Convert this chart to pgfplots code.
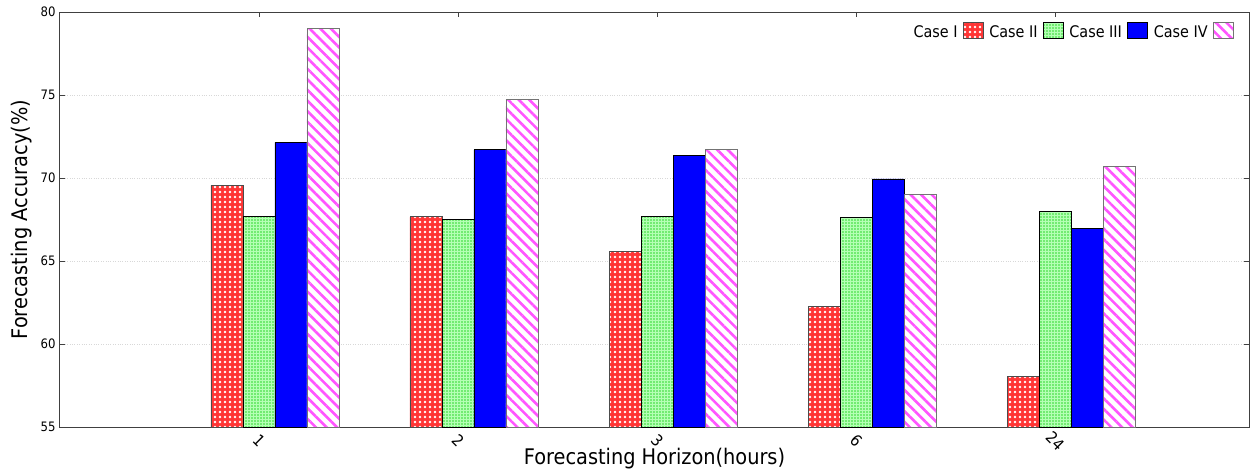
\documentclass[border=0pt]{standalone}
\usepackage{fontspec}
\IfFontExistsTF{DejaVu Sans Condensed}{\setmainfont{DejaVu Sans Condensed}}{\setmainfont{DejaVu Sans}}
\usepackage{pgfplots}
\pgfplotsset{compat=1.18}
\usetikzlibrary{patterns.meta}
\definecolor{cI}{HTML}{FF3535}
\definecolor{cIIbg}{HTML}{B4FFB4}
\definecolor{cIIfg}{HTML}{30D830}
\definecolor{cIII}{HTML}{0000FF}
\definecolor{cIV}{HTML}{FF55FF}
\definecolor{gridc}{HTML}{D8D8D8}
\begin{document}
\begin{tikzpicture}
\begin{axis}[
  scale only axis, width=1189pt, height=415pt,
  at={(0pt,0pt)}, anchor=south west,
  xmin=-1.080, xmax=4.894, ymin=55, ymax=80,
  ybar=0pt, bar width=32pt,
  xtick={-0.08,0.92,1.92,2.92,3.92},
  xticklabels={1,2,3,6,24},
  ytick={55,60,65,70,75,80},
  ymajorgrids, grid style={dotted, gridc, line width=1pt},
  tick align=inside, major tick length=5pt,
  tick style={black!75, line width=0.8pt},
  axis line style={black!75, line width=1pt},
  /pgf/number format/assume math mode=true,
  yticklabel style={font=\fontsize{13}{13}\selectfont, xshift=-1pt},
  xticklabel style={font=\fontsize{16}{16}\selectfont, yshift=-14pt, rotate=-45, anchor=center},
  xlabel={Forecasting Horizon(hours)},
  ylabel={Forecasting Accuracy(\%)},
  label style={font=\fontsize{21.5}{21.5}\selectfont},
  xlabel style={at={(axis description cs:0.5,-0.077)}, anchor=center},
  ylabel style={at={(axis description cs:-0.032,0.5)}, anchor=center},
  legend style={at={(axis description cs:0.990,0.954)}, anchor=east,
    draw=none, fill=none, font=\fontsize{16}{16}\selectfont,
    legend columns=4, column sep=4pt, nodes={inner sep=1.5pt}},
  legend plot pos=right,
  legend image code/.code={\draw[#1] (0pt,-6pt) rectangle (20pt,10pt);},
]
\addplot[draw=black!70, line width=0.8pt, fill=cI,
  postaction={pattern={Dots[distance=5pt, radius=1.4pt]}, pattern color=white}]
  coordinates {(0,69.56) (1,67.66) (2,65.6) (3,62.28) (4,58.06)};
\addplot[draw=black, line width=0.8pt, fill=cIIbg,
  postaction={pattern={Dots[distance=3pt, radius=0.8pt]}, pattern color=cIIfg}]
  coordinates {(0,67.7) (1,67.5) (2,67.7) (3,67.6) (4,68.0)};
\addplot[draw=black, line width=0.8pt, fill=cIII]
  coordinates {(0,72.14) (1,71.7) (2,71.38) (3,69.94) (4,66.97)};
\addplot[draw=black!55, line width=0.8pt, fill=white,
  postaction={pattern={Lines[angle=-45, distance=7.5pt, line width=2.6pt]}, pattern color=cIV}]
  coordinates {(0,79.0) (1,74.74) (2,71.74) (3,69.0) (4,70.7)};
\legend{Case I, Case II, Case III, Case IV}
\end{axis}
\pgfresetboundingbox
\path (-60pt,-45pt) rectangle (1196pt,427pt);
\end{tikzpicture}
\end{document}
